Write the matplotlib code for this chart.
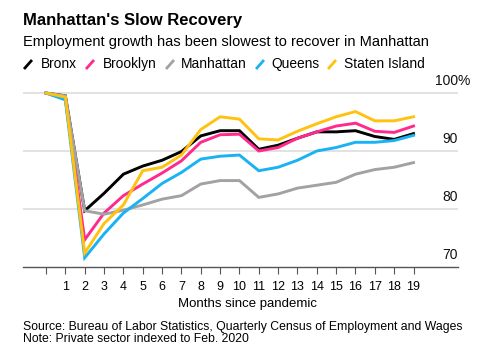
import matplotlib
matplotlib.use("Agg")
import matplotlib.pyplot as plt
from matplotlib.lines import Line2D

plt.rcParams['font.family'] = ['Liberation Sans', 'DejaVu Sans']

months = list(range(0, 20))
bronx = [100, 99.5, 79.7, 82.7, 86.0, 87.4, 88.4, 89.9, 92.6, 93.5, 93.5, 90.3, 91.0, 92.2, 93.3, 93.3, 93.5, 92.5, 92.0, 93.0]
brooklyn = [100, 99.0, 74.7, 79.3, 82.3, 84.3, 86.2, 88.3, 91.5, 92.8, 92.9, 90.0, 90.6, 92.2, 93.3, 94.3, 94.8, 93.4, 93.2, 94.3]
manhattan = [100, 99.5, 79.7, 79.1, 79.8, 80.7, 81.7, 82.3, 84.3, 84.9, 84.9, 82.0, 82.6, 83.6, 84.1, 84.6, 86.0, 86.8, 87.2, 88.0]
queens = [100, 98.8, 71.6, 75.7, 79.3, 81.8, 84.4, 86.3, 88.6, 89.1, 89.3, 86.6, 87.2, 88.4, 90.0, 90.6, 91.5, 91.5, 91.8, 92.7]
staten = [100, 99.3, 72.4, 77.5, 80.7, 86.6, 87.2, 89.3, 93.7, 95.9, 95.5, 92.1, 91.9, 93.4, 94.7, 95.9, 96.8, 95.2, 95.2, 95.9]

names = ["Bronx", "Brooklyn", "Manhattan", "Queens", "Staten Island"]
colors = ["#000000", "#ff2a8c", "#a2a2a2", "#19b2f5", "#ffc20e"]
series = [bronx, brooklyn, manhattan, queens, staten]
yticks = [70, 80, 90, 100]
xlabels = [str(m) for m in range(1, 20)]

W, H = 500, 358
fig = plt.figure(figsize=(5, 3.58), dpi=100)

def fx(px):
    return px / W

def fy(py):
    return 1 - py / H

ax = fig.add_axes([fx(23), fy(267), fx(458) - fx(23), fy(81.4) - fy(267)])
ax.set_xlim(-1.19, 21.3)
ax.set_ylim(70, 102)

for y in yticks[1:]:
    ax.axhline(y, color="#dddddd", lw=1.2, zorder=0)

for s, c in zip(series, colors):
    ax.plot(months, s, color=c, lw=2.1, solid_joinstyle="miter", zorder=3)

for sp in ["top", "right", "left"]:
    ax.spines[sp].set_visible(False)
ax.spines["bottom"].set_color("#555555")
ax.spines["bottom"].set_linewidth(1.0)
ax.set_yticks([])
ax.set_xticks(months)
ax.set_xticklabels([""] + xlabels)
ax.tick_params(axis="x", length=5, width=0.8, color="#555555", labelsize=9, pad=5)

# right-side y labels
for y in yticks:
    label = str(y)
    yt = y + 2.0
    ax.text(21.3, yt, label, ha="right", va="center", fontsize=10, color="#111111")
    if y == 100:
        ax.text(21.3, yt, "%", ha="left", va="center", fontsize=10, color="#111111")

fig.text(fx(23), fy(20), "Manhattan's Slow Recovery", fontsize=12, fontweight="bold", va="center", ha="left")
fig.text(fx(23), fy(42), "Employment growth has been slowest to recover in Manhattan", fontsize=10.5, va="center", ha="left")

# legend
sym_x = [23, 85, 165, 255, 327]
txt_x = [41, 103, 181, 271, 344]
ly = 64
for sx, tx, n, c in zip(sym_x, txt_x, names, colors):
    fig.add_artist(Line2D([fx(sx + 1), fx(sx + 9)], [fy(ly + 5), fy(ly - 4)], color=c, lw=2.0, solid_capstyle="butt"))
    fig.text(fx(tx), fy(ly), n, fontsize=9.9, va="center", ha="left")

fig.text(fx(247), fy(304), "Months since pandemic", fontsize=9.5, ha="center", va="center")
fig.text(fx(23), fy(327), "Source: Bureau of Labor Statistics, Quarterly Census of Employment and Wages", fontsize=8.85, ha="left", va="center")
fig.text(fx(23), fy(338.5), "Note: Private sector indexed to Feb. 2020", fontsize=8.85, ha="left", va="center")

fig.savefig("out.png", dpi=100, facecolor="white")
